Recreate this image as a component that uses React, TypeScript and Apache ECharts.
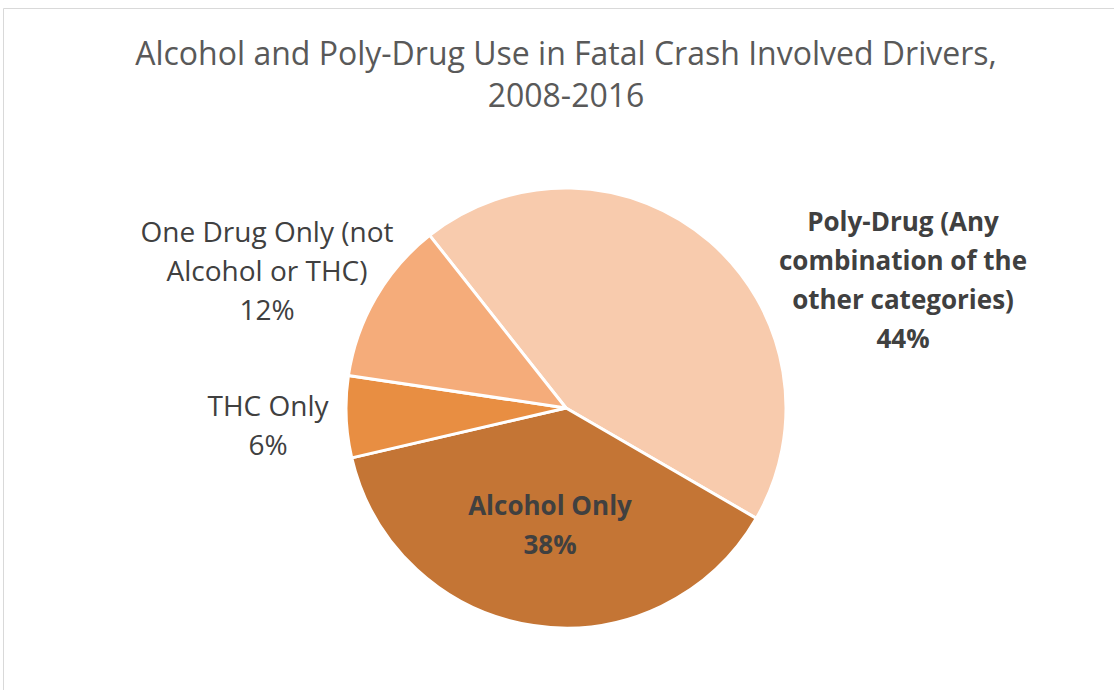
import React, { useEffect, useRef } from "react";
import * as echarts from "echarts";

const titleLines = ["Alcohol and Poly-Drug Use in Fatal Crash Involved Drivers,", "2008-2016"];
const categories = [
  "Poly-Drug (Any\ncombination of the\nother categories)",
  "Alcohol Only",
  "THC Only",
  "One Drug Only (not\nAlcohol or THC)",
];
const values = [44, 38, 6, 12];
const colors = ["#F8CBAD", "#C47535", "#E88E42", "#F5AC7A"];
const boldLabels = [true, true, false, false];
const labelPos: [number, number][] = [
  [903, 279],
  [550, 524],
  [268, 424],
  [267, 270],
];

export default function App() {
  const ref = useRef<HTMLDivElement>(null);
  useEffect(() => {
    if (!ref.current) return;
    const chart = echarts.init(ref.current, null, { renderer: "svg" });
    const font = "'Open Sans', sans-serif";
    chart.setOption({
      animation: false,
      backgroundColor: "#ffffff",
      title: {
        text: titleLines.join("\n"),
        left: 566,
        top: 31,
        padding: 0,
        textAlign: "center",
        textStyle: {
          fontFamily: font,
          fontSize: 32,
          fontWeight: "normal",
          color: "#595959",
          lineHeight: 42,
        },
      },
      graphic: [
        {
          type: "rect",
          shape: { x: 3.5, y: 8.5, width: 1200, height: 800 },
          style: { fill: "none", stroke: "#d9d9d9", lineWidth: 1 },
          silent: true,
        },
      ],
      series: [
        {
          type: "pie",
          center: [566, 408],
          radius: 220,
          startAngle: 128.3,
          clockwise: true,
          itemStyle: { borderColor: "#ffffff", borderWidth: 3 },
          labelLine: { show: false },
          emphasis: { disabled: true },
          label: {
            show: true,
            position: "outside",
            formatter: "{b}\n{d}%",
            fontFamily: font,
            fontSize: 28,
            lineHeight: 39,
            color: "#404040",
            align: "center",
          },
          labelLayout: (p: any) => ({
            x: labelPos[p.dataIndex][0],
            y: labelPos[p.dataIndex][1],
            align: "center",
            verticalAlign: "middle",
          }),
          data: categories.map((name, i) => ({
            name,
            value: values[i],
            itemStyle: { color: colors[i] },
            label: boldLabels[i]
              ? { fontWeight: "bold", fontSize: 26 }
              : { fontWeight: "normal", fontSize: 28 },
          })),
        },
      ],
    });
    return () => chart.dispose();
  }, []);
  return (
    <div
      ref={ref}
      style={{ position: "fixed", left: 0, top: 0, width: 1114, height: 690 }}
    />
  );
}
